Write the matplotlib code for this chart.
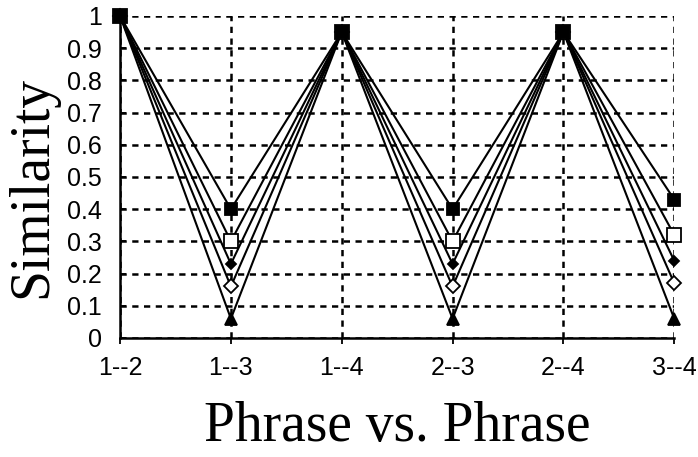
import matplotlib.pyplot as plt
import numpy as np

# data
pairs = ['1--2', '1--3', '1--4', '2--3', '2--4', '3--4']
filled_square = [1.0, 0.40, 0.95, 0.40, 0.95, 0.43]
open_square = [1.0, 0.30, 0.95, 0.30, 0.95, 0.32]
filled_diamond = [1.0, 0.23, 0.95, 0.23, 0.95, 0.24]
open_diamond = [1.0, 0.16, 0.95, 0.16, 0.95, 0.17]
filled_triangle = [1.0, 0.06, 0.95, 0.06, 0.95, 0.06]

yticks = [0, 0.1, 0.2, 0.3, 0.4, 0.5, 0.6, 0.7, 0.8, 0.9, 1]
yticklabels = ['0', '0.1', '0.2', '0.3', '0.4', '0.5', '0.6', '0.7', '0.8', '0.9', '1']

fig = plt.figure(figsize=(6.98, 4.57), dpi=100)
ax = fig.add_axes([0.172, 0.2604, 0.794, 0.7046])

x = np.arange(len(pairs))

# series: values, marker, facecolor, size
series = [
    (filled_triangle, '^', 'black', 8),
    (open_diamond, 'D', 'white', 7),
    (filled_diamond, 'D', 'black', 5.5),
    (open_square, 's', 'white', 9.5),
    (filled_square, 's', 'black', 8.5),
]
for vals, m, fc, ms in series:
    ax.plot(x, vals, color='black', linewidth=1.5, marker=m, markersize=ms,
            markerfacecolor=fc, markeredgecolor='black', markeredgewidth=1.3,
            clip_on=False, zorder=3)

ax.set_xlim(0, 5)
ax.set_ylim(0, 1)
ax.set_xticks(x)
ax.set_xticklabels(pairs, fontname='Liberation Sans', fontsize=18)
ax.set_yticks(yticks)
ax.set_yticklabels(yticklabels, fontname='Liberation Sans', fontsize=18)

ax.grid(True, color='black', linestyle=(0, (2.5, 2.2)), linewidth=1.8)
ax.spines['top'].set_visible(False)
ax.spines['right'].set_visible(False)
ax.spines['left'].set_linewidth(1.8)
ax.spines['bottom'].set_linewidth(1.8)
ax.tick_params(axis='y', direction='in', length=4, width=1.3, pad=13)
ax.tick_params(axis='x', direction='out', length=4, width=1.3, pad=9)

ax.set_xlabel('Phrase vs. Phrase', fontname='Liberation Serif', fontsize=40)
ax.set_ylabel('Similarity', fontname='Liberation Serif', fontsize=40)
ax.xaxis.set_label_coords(0.5, -0.195)
ax.yaxis.set_label_coords(-0.112, 0.47)

fig.savefig('out.png', dpi=100)
